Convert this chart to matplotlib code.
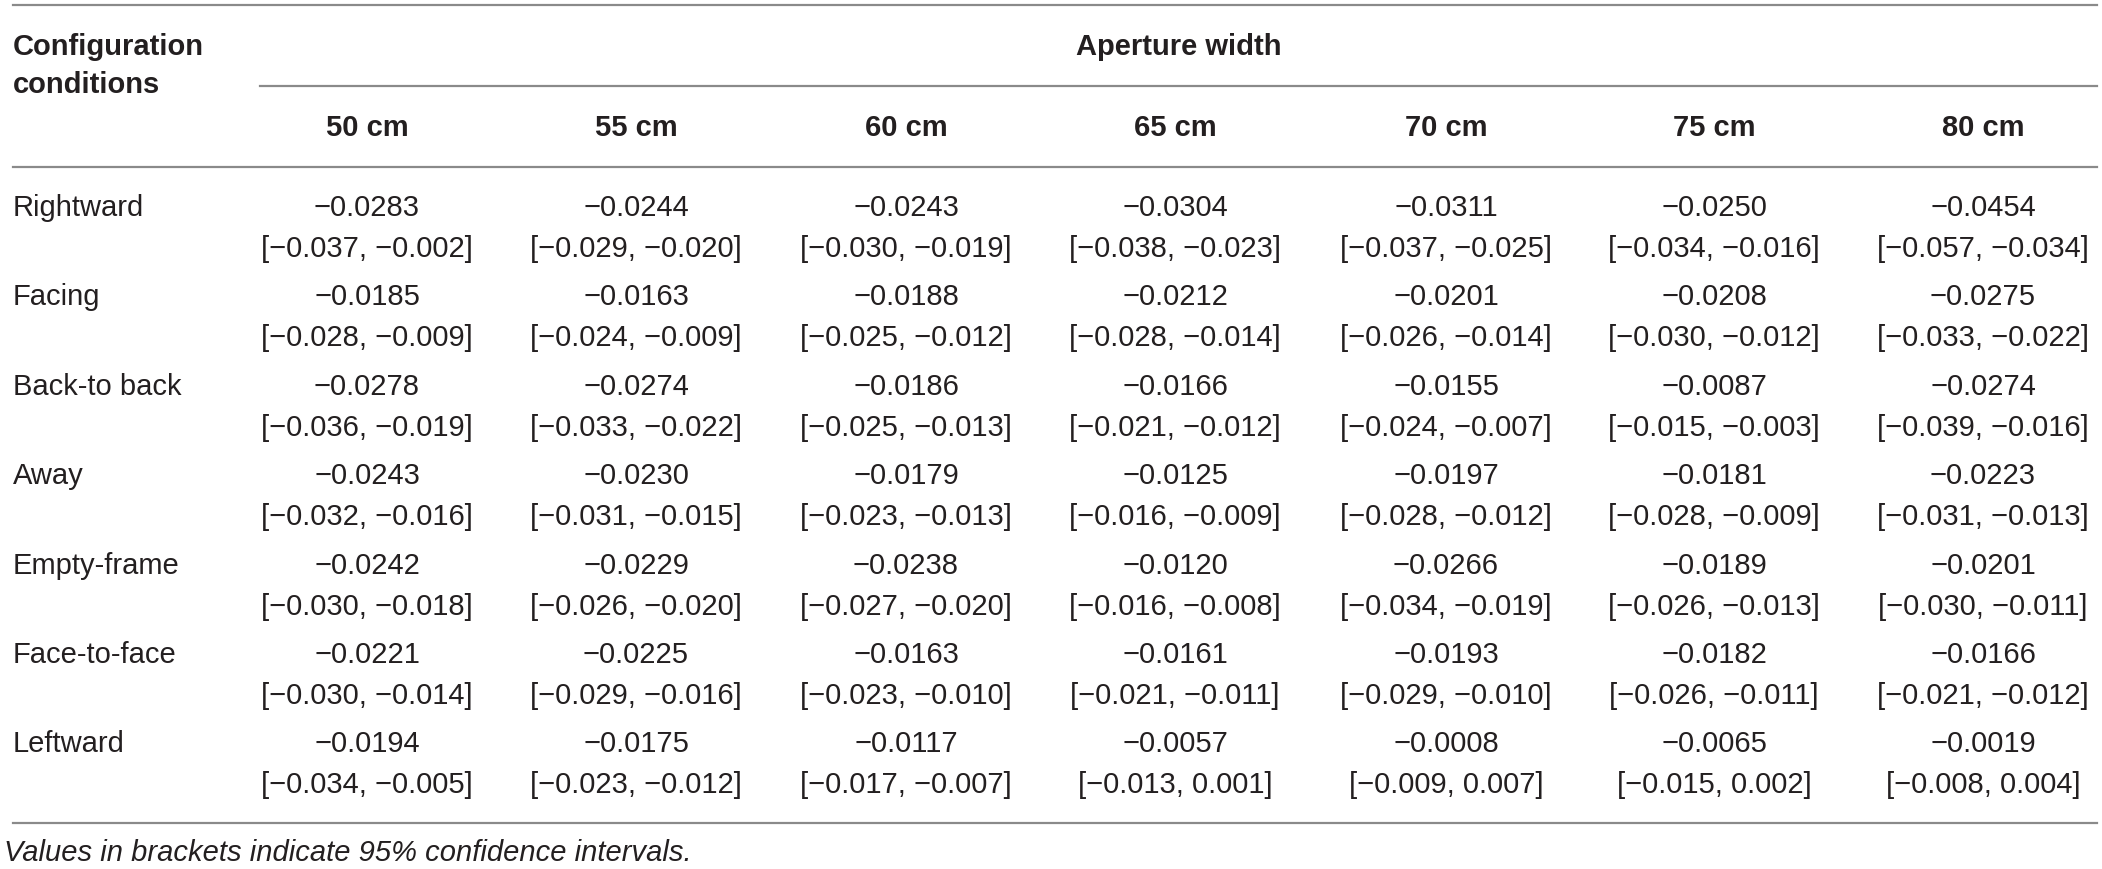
import matplotlib
matplotlib.use("Agg")
import matplotlib.pyplot as plt
from matplotlib.lines import Line2D

# ---- data ----
conditions = ["Rightward", "Facing", "Back-to back", "Away", "Empty-frame", "Face-to-face", "Leftward"]
widths = ["50 cm", "55 cm", "60 cm", "65 cm", "70 cm", "75 cm", "80 cm"]
means = [
    [-0.0283, -0.0244, -0.0243, -0.0304, -0.0311, -0.0250, -0.0454],
    [-0.0185, -0.0163, -0.0188, -0.0212, -0.0201, -0.0208, -0.0275],
    [-0.0278, -0.0274, -0.0186, -0.0166, -0.0155, -0.0087, -0.0274],
    [-0.0243, -0.0230, -0.0179, -0.0125, -0.0197, -0.0181, -0.0223],
    [-0.0242, -0.0229, -0.0238, -0.0120, -0.0266, -0.0189, -0.0201],
    [-0.0221, -0.0225, -0.0163, -0.0161, -0.0193, -0.0182, -0.0166],
    [-0.0194, -0.0175, -0.0117, -0.0057, -0.0008, -0.0065, -0.0019],
]
ci_low = [
    [-0.037, -0.029, -0.030, -0.038, -0.037, -0.034, -0.057],
    [-0.028, -0.024, -0.025, -0.028, -0.026, -0.030, -0.033],
    [-0.036, -0.033, -0.025, -0.021, -0.024, -0.015, -0.039],
    [-0.032, -0.031, -0.023, -0.016, -0.028, -0.028, -0.031],
    [-0.030, -0.026, -0.027, -0.016, -0.034, -0.026, -0.030],
    [-0.030, -0.029, -0.023, -0.021, -0.029, -0.026, -0.021],
    [-0.034, -0.023, -0.017, -0.013, -0.009, -0.015, -0.008],
]
ci_high = [
    [-0.002, -0.020, -0.019, -0.023, -0.025, -0.016, -0.034],
    [-0.009, -0.009, -0.012, -0.014, -0.014, -0.012, -0.022],
    [-0.019, -0.022, -0.013, -0.012, -0.007, -0.003, -0.016],
    [-0.016, -0.015, -0.013, -0.009, -0.012, -0.009, -0.013],
    [-0.018, -0.020, -0.020, -0.008, -0.019, -0.013, -0.011],
    [-0.014, -0.016, -0.010, -0.011, -0.010, -0.011, -0.012],
    [-0.005, -0.012, -0.007, 0.001, 0.007, 0.002, 0.004],
]
row_header = "Configuration\nconditions"
group_header = "Aperture width"
footnote = "Values in brackets indicate 95% confidence intervals."

# ---- layout ----
W, H = 2102, 869
fig = plt.figure(figsize=(W / 100, H / 100), dpi=100)
fig.patch.set_facecolor("white")

TXT = "#231f20"
LINE = "#8a8a8a"
FONT = ["Liberation Sans", "DejaVu Sans"]
FS = 21


def fx(x):
    return x / W


def fy(y):
    return 1 - y / H


def hline(y, x0, x1):
    fig.add_artist(Line2D([fx(x0), fx(x1)], [fy(y), fy(y)], color=LINE, lw=1.6,
                          transform=fig.transFigure))


def fmt(v, d):
    s = f"{abs(v):.{d}f}"
    return ("\u2212" + s) if v < 0 else s


left = 13
right = 2097
col_x = [367, 636, 906, 1175, 1446, 1714, 1983]

hline(5, left, right)
hline(86, 260, right)
hline(167, left, right)
hline(823, left, right)

fig.text(fx(left), fy(47), "Configuration", fontsize=FS, fontweight="bold",
         family=FONT, color=TXT, ha="left", va="center")
fig.text(fx(left), fy(85), "conditions", fontsize=FS, fontweight="bold",
         family=FONT, color=TXT, ha="left", va="center")
fig.text(fx((260 + right) / 2), fy(47), group_header, fontsize=FS, fontweight="bold",
         family=FONT, color=TXT, ha="center", va="center")

for x, w in zip(col_x, widths):
    fig.text(fx(x), fy(128), w, fontsize=FS, fontweight="bold", family=FONT,
             color=TXT, ha="center", va="center")

row_y0, row_dy, ci_dy = 208, 89.4, 41
for i, cond in enumerate(conditions):
    y = row_y0 + i * row_dy
    fig.text(fx(left), fy(y), cond, fontsize=FS, family=FONT, color=TXT,
             ha="left", va="center")
    for j, x in enumerate(col_x):
        fig.text(fx(x), fy(y), fmt(means[i][j], 4), fontsize=FS, family=FONT,
                 color=TXT, ha="center", va="center")
        fig.text(fx(x), fy(y + ci_dy),
                 f"[{fmt(ci_low[i][j], 3)}, {fmt(ci_high[i][j], 3)}]",
                 fontsize=FS, family=FONT, color=TXT, ha="center", va="center")

fig.text(fx(left - 9), fy(853), footnote, fontsize=FS, style="italic", family=FONT,
         color=TXT, ha="left", va="center")

fig.savefig("out.png", dpi=100, facecolor="white")
